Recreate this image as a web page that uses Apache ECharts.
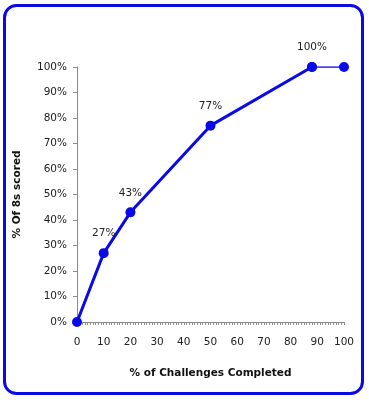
<!DOCTYPE html>
<html>
<head>
<meta charset="utf-8">
<script src="https://cdn.jsdelivr.net/npm/echarts@6/dist/echarts.min.js"></script>
<style>
html,body{margin:0;padding:0;background:#fff;}
#c{width:369px;height:400px;}
</style>
</head>
<body>
<div id="c"></div>
<script>
const xValues = [0, 10, 20, 50, 88, 100];
const yValues = [0, 27, 43, 77, 100, 100];
const pointLabels = ['', '27%', '43%', '77%', '100%', ''];
const xTitle = '% of Challenges Completed';
const yTitle = '% Of 8s scored';

const mainData = [];
for (let i = 0; i < 5; i++) mainData.push({value: [xValues[i], yValues[i]], label: pointLabels[i]});
const tailData = [[xValues[4], yValues[4]], [xValues[5], yValues[5]]];

const blue = '#0a0ae6';
const font = 'DejaVu Sans';
const chart = echarts.init(document.getElementById('c'), null, {renderer: 'canvas'});
chart.setOption({
  animation: false,
  graphic: [{
    type: 'rect',
    shape: {x: 4.5, y: 5.5, width: 358, height: 388, r: 12},
    style: {fill: 'none', stroke: blue, lineWidth: 3},
    z: 100
  }],
  grid: {left: 77, right: 25, top: 67, bottom: 78},
  xAxis: {
    type: 'value', min: 0, max: 100, interval: 10,
    name: xTitle, nameLocation: 'middle', nameGap: 46,
    nameTextStyle: {fontFamily: font, fontWeight: 'bold', fontSize: 10.5, color: '#111'},
    axisLine: {show: true, lineStyle: {color: '#8c8c8c', width: 1}},
    axisTick: {show: true, inside: false, length: 3, lineStyle: {color: '#8c8c8c'}},
    minorTick: {show: true, splitNumber: 10, length: 3, lineStyle: {color: '#8c8c8c'}},
    splitLine: {show: false},
    axisLabel: {margin: 15, fontFamily: font, fontSize: 10.5, color: '#222'}
  },
  yAxis: {
    type: 'value', min: 0, max: 100, interval: 10,
    name: yTitle, nameLocation: 'middle', nameGap: 54, nameRotate: 90,
    nameTextStyle: {fontFamily: font, fontWeight: 'bold', fontSize: 10.5, color: '#111'},
    axisLine: {show: true, lineStyle: {color: '#8c8c8c', width: 1}},
    axisTick: {show: true, inside: false, length: 4, lineStyle: {color: '#8c8c8c'}},
    splitLine: {show: false},
    axisLabel: {margin: 10, fontFamily: font, fontSize: 10.5, color: '#222', formatter: v => v + '%'}
  },
  series: [{
    type: 'line',
    data: mainData,
    symbol: 'circle', symbolSize: 10,
    lineStyle: {color: blue, width: 3},
    itemStyle: {color: blue},
    label: {show: true, position: 'top', distance: 9, fontFamily: font, fontSize: 10.5, color: '#222',
      formatter: p => p.data.label},
    z: 3
  }, {
    type: 'line',
    data: tailData,
    symbol: 'circle', symbolSize: 10,
    lineStyle: {color: blue, width: 1.5},
    itemStyle: {color: blue},
    z: 2
  }]
});
</script>
</body>
</html>
